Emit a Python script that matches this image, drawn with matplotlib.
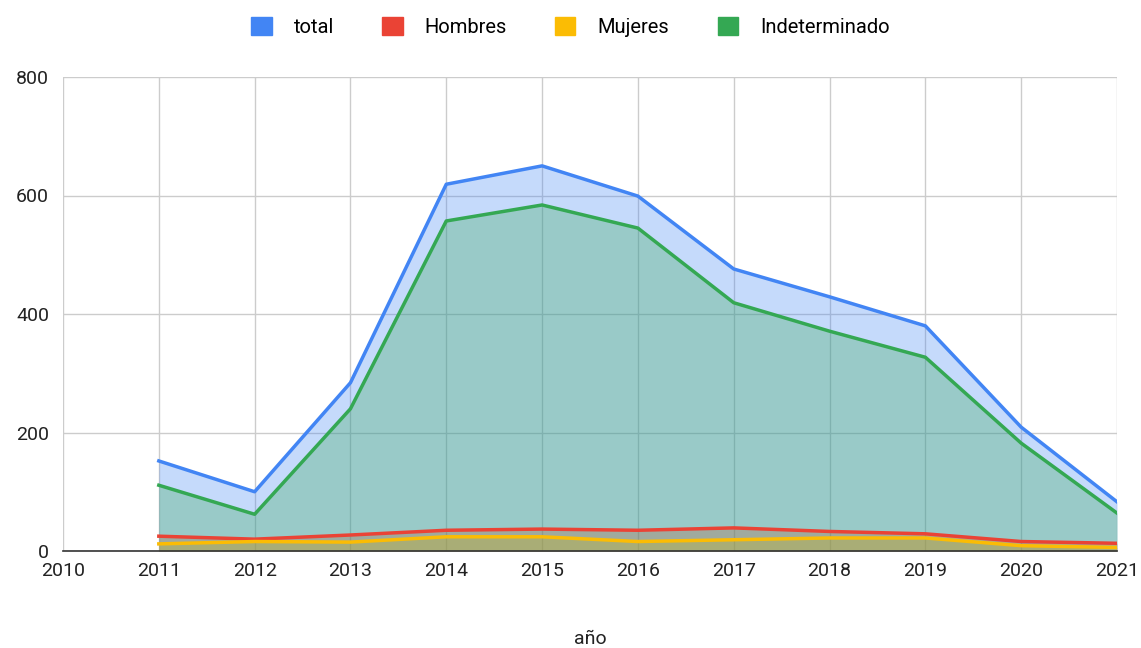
import matplotlib
matplotlib.use("Agg")
import matplotlib.pyplot as plt
from matplotlib.patches import Patch

years = [2011, 2012, 2013, 2014, 2015, 2016, 2017, 2018, 2019, 2020, 2021]
total = [152, 100, 284, 619, 650, 599, 476, 429, 380, 209, 83]
hombres = [25, 20, 27, 35, 37, 35, 39, 33, 29, 16, 13]
mujeres = [12, 16, 15, 24, 24, 16, 19, 22, 22, 9, 6]
indeterminado = [111, 62, 240, 557, 584, 545, 419, 371, 327, 182, 64]

series = [("total", total, "#4285F4"),
          ("Hombres", hombres, "#EA4335"),
          ("Mujeres", mujeres, "#FBBC04"),
          ("Indeterminado", indeterminado, "#34A853")]

plt.rcParams['font.family'] = ['Roboto', 'DejaVu Sans']
fig = plt.figure(figsize=(11.41, 6.48), dpi=100)
ax = fig.add_axes([63/1141, 97/648, (1117-63)/1141, (551-77)/648])

for name, vals, col in series:
    ax.fill_between(years, vals, 0, color=col, alpha=0.3, linewidth=0, zorder=2)
    ax.plot(years, vals, color=col, linewidth=2.5, zorder=3)

ax.set_xlim(2010, 2021)
ax.set_ylim(0, 800)
ax.set_xticks(list(range(2010, 2022)))
ax.set_yticks([0, 200, 400, 600, 800])
ax.grid(True, color="#cccccc", linewidth=1, zorder=0)
ax.set_axisbelow(True)
for s in ["top", "right", "left"]:
    ax.spines[s].set_visible(False)
ax.spines["bottom"].set_color("#333333")
ax.spines["bottom"].set_linewidth(1.2)
ax.spines["bottom"].set_zorder(4)
ax.tick_params(axis="both", length=0, labelsize=14, colors="#222222", pad=8)
ax.tick_params(axis="y", pad=10)
ax.set_xlabel("año", fontsize=14, color="#222222", labelpad=36)

handles = [Patch(facecolor=c, edgecolor=c, label=n) for n, _, c in series]
fig.legend(handles=handles, loc="center", bbox_to_anchor=(0.5, 1 - 27/648), ncol=4,
           frameon=False, fontsize=14.5, handlelength=1.0, handleheight=1.0,
           columnspacing=2.4, handletextpad=1.1)

fig.savefig("out.png", dpi=100)
